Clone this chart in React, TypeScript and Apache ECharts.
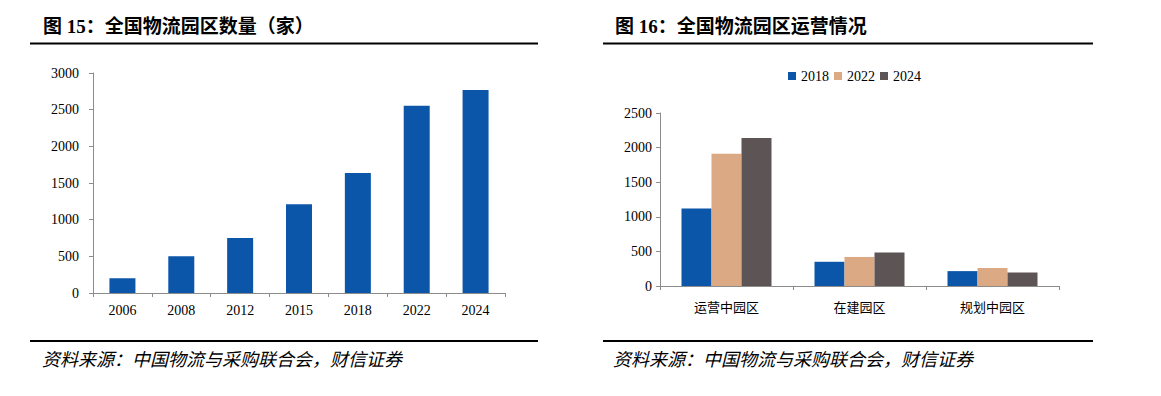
import React, { useEffect, useRef } from "react";
import * as echarts from "echarts";

const leftCategories = ["2006", "2008", "2012", "2015", "2018", "2022", "2024"];
const leftValues = [200, 500, 750, 1210, 1638, 2553, 2769];
const leftTicks = [0, 500, 1000, 1500, 2000, 2500, 3000];

const rightCategories = ["运营中园区", "在建园区", "规划中园区"];
const rightSeriesNames = ["2018", "2022", "2024"];
const values2018 = [1120, 350, 215];
const values2022 = [1910, 420, 260];
const values2024 = [2140, 485, 195];
const rightTicks = [0, 500, 1000, 1500, 2000, 2500];

const leftTitle = "图 15：全国物流园区数量（家）";
const rightTitle = "图 16：全国物流园区运营情况";
const sourceText = "资料来源：中国物流与采购联合会，财信证券";

const BLUE = "#0B56A8";
const TAN = "#DBAA85";
const DARK = "#5C5455";
const AXIS = "#8C8C8C";
const SERIF = "'Liberation Serif', 'Times New Roman', serif";
const TITLE_FONT = "'Liberation Serif', 'Noto Sans CJK SC', serif";
const CJK = "'Noto Sans CJK SC', sans-serif";

const plain = (v: number) => String(v);

export default function App() {
  const ref = useRef<HTMLDivElement>(null);
  useEffect(() => {
    if (!ref.current) return;
    const chart = echarts.init(ref.current, undefined, { renderer: "svg" });
    const axisCommon = {
      axisLine: { show: true, lineStyle: { color: AXIS, width: 1 } },
      axisTick: { show: true, length: 4, lineStyle: { color: AXIS } },
      splitLine: { show: false },
    };
    chart.setOption({
      animation: false,
      backgroundColor: "#ffffff",
      grid: [
        { left: 93, top: 73, width: 412, height: 220 },
        { left: 660, top: 113, width: 399, height: 173 },
      ],
      legend: {
        data: rightSeriesNames,
        left: 783,
        top: 64,
        itemWidth: 8,
        itemHeight: 8,
        itemGap: 5,
        icon: "rect",
        textStyle: { fontFamily: SERIF, fontSize: 14, color: "#000" },
      },
      xAxis: [
        {
          type: "category",
          gridIndex: 0,
          data: leftCategories,
          ...axisCommon,
          axisLabel: { fontFamily: SERIF, fontSize: 14, color: "#000", margin: 10 },
        },
        {
          type: "category",
          gridIndex: 1,
          data: rightCategories,
          ...axisCommon,
          axisLabel: { fontFamily: CJK, fontSize: 13, color: "#000", margin: 14 },
        },
      ],
      yAxis: [
        {
          type: "value",
          gridIndex: 0,
          min: leftTicks[0],
          max: leftTicks[leftTicks.length - 1],
          interval: leftTicks[1] - leftTicks[0],
          ...axisCommon,
          axisLabel: { fontFamily: SERIF, fontSize: 14, color: "#000", margin: 14, formatter: plain },
        },
        {
          type: "value",
          gridIndex: 1,
          min: rightTicks[0],
          max: rightTicks[rightTicks.length - 1],
          interval: rightTicks[1] - rightTicks[0],
          ...axisCommon,
          axisLabel: { fontFamily: SERIF, fontSize: 14, color: "#000", margin: 8, formatter: plain },
        },
      ],
      series: [
        {
          name: "全国物流园区数量",
          type: "bar",
          xAxisIndex: 0,
          yAxisIndex: 0,
          data: leftValues,
          barWidth: 26,
          itemStyle: { color: BLUE },
        },
        {
          name: rightSeriesNames[0],
          type: "bar",
          xAxisIndex: 1,
          yAxisIndex: 1,
          data: values2018,
          barWidth: 30,
          barGap: "0%",
          itemStyle: { color: BLUE },
        },
        {
          name: rightSeriesNames[1],
          type: "bar",
          xAxisIndex: 1,
          yAxisIndex: 1,
          data: values2022,
          barWidth: 30,
          barGap: "0%",
          itemStyle: { color: TAN },
        },
        {
          name: rightSeriesNames[2],
          type: "bar",
          xAxisIndex: 1,
          yAxisIndex: 1,
          data: values2024,
          barWidth: 30,
          barGap: "0%",
          itemStyle: { color: DARK },
        },
      ],
      graphic: [
        {
          type: "text",
          x: 43,
          y: 26,
          style: {
            text: leftTitle,
            fontFamily: TITLE_FONT,
            fontWeight: "bold",
            fontSize: 19,
            fill: "#000",
            verticalAlign: "middle",
          },
        },
        {
          type: "text",
          x: 615,
          y: 26,
          style: {
            text: rightTitle,
            fontFamily: TITLE_FONT,
            fontWeight: "bold",
            fontSize: 19,
            fill: "#000",
            verticalAlign: "middle",
          },
        },
        { type: "line", shape: { x1: 30, y1: 43.5, x2: 538, y2: 43.5 }, style: { stroke: "#000", lineWidth: 2 } },
        { type: "line", shape: { x1: 603, y1: 43.5, x2: 1093, y2: 43.5 }, style: { stroke: "#000", lineWidth: 2 } },
        { type: "line", shape: { x1: 30, y1: 341, x2: 538, y2: 341 }, style: { stroke: "#000", lineWidth: 2 } },
        { type: "line", shape: { x1: 603, y1: 341, x2: 1093, y2: 341 }, style: { stroke: "#000", lineWidth: 2 } },
        {
          type: "text",
          x: 42,
          y: 358,
          style: {
            text: sourceText,
            fontFamily: CJK,
            fontStyle: "italic",
            fontSize: 18,
            fill: "#000",
            verticalAlign: "middle",
          },
        },
        {
          type: "text",
          x: 613,
          y: 358,
          style: {
            text: sourceText,
            fontFamily: CJK,
            fontStyle: "italic",
            fontSize: 18,
            fill: "#000",
            verticalAlign: "middle",
          },
        },
      ],
    });
    return () => chart.dispose();
  }, []);
  return (
    <div
      ref={ref}
      style={{ position: "absolute", left: 0, top: 0, width: 1161, height: 396 }}
    />
  );
}
